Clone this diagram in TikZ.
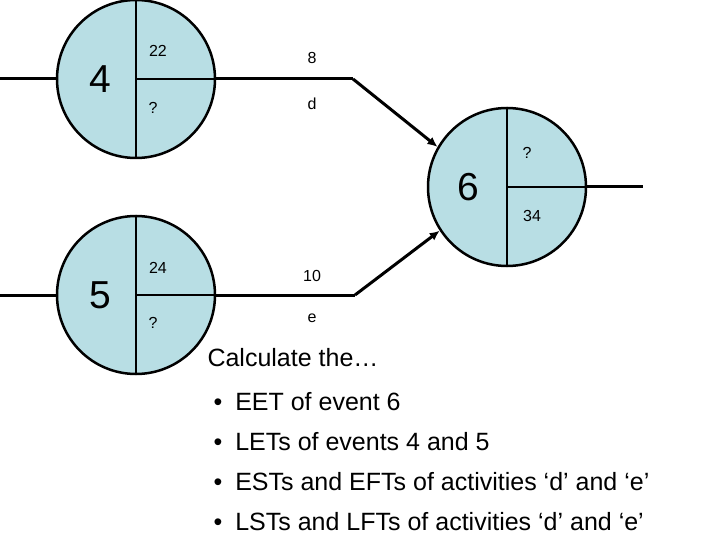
\documentclass[tikz,border=0pt]{standalone}
\usepackage{fontspec}
\setmainfont{Liberation Sans}
\definecolor{ev}{RGB}{184,222,228}
\begin{document}
\begin{tikzpicture}[x=1pt,y=-1pt,
  evc/.style={circle,draw,fill=ev,line width=2.5pt,minimum size=158pt,inner sep=0pt},
  ln/.style={line width=3pt},
  sl/.style={line width=2.5pt},
  arr/.style={line width=3pt,-{Latex[length=10pt,width=9pt]}},
  big/.style={font=\fontsize{39}{39}\selectfont},
  sm/.style={font=\fontsize{16}{16}\selectfont},
  txt/.style={font=\fontsize{25}{30}\selectfont,anchor=west}]
\useasboundingbox (0,0) rectangle (720,540);
\usetikzlibrary{arrows.meta}
% event 4
\node[evc] (c4) at (136,79) {};
\coordinate (l4) at (0,79);
\coordinate (r4) at (353,79);
\draw[ln] (l4) -- (c4.west);
\draw[ln] (c4.east) -- (r4);
\draw[sl] (c4.north) -- (c4.south);
\draw[sl] (c4.center) -- (c4.east);
\node[big] (n4) at (100,79) {4};
\node[sm] (a22) at (158,51) {22};
\node[sm] (q4) at (153,108) {?};
\node[sm] (l8) at (312,58) {8};
\node[sm] (ld) at (312,104) {d};
% event 5
\node[evc] (c5) at (136,295) {};
\coordinate (l5) at (0,295);
\coordinate (r5) at (355,295);
\draw[ln] (l5) -- (c5.west);
\draw[ln] (c5.east) -- (r5);
\draw[sl] (c5.north) -- (c5.south);
\draw[sl] (c5.center) -- (c5.east);
\node[big] (n5) at (100,295) {5};
\node[sm] (a24) at (158,268) {24};
\node[sm] (q5) at (153,323) {?};
\node[sm] (l10) at (312,276) {10};
\node[sm] (le) at (312,318) {e};
% event 6
\node[evc] (c6) at (507,187) {};
\coordinate (r6) at (643,187);
\draw[ln] (c6.east) -- (r6);
\draw[sl] (c6.north) -- (c6.south);
\draw[sl] (c6.center) -- (c6.east);
\node[big] (n6) at (468,187) {6};
\node[sm] (q6) at (527,153) {?};
\node[sm] (a34) at (532,216) {34};
\draw[arr] (r4) -- (c6.150);
\draw[arr] (r5) -- (c6.213);
% text
\node[txt] (t0) at (204,358) {Calculate the…};
\node[txt] (t1) at (210,402) {•\hspace{13pt}EET of event 6};
\node[txt] (t2) at (210,442) {•\hspace{13pt}LETs of events 4 and 5};
\node[txt] (t3) at (210,482) {•\hspace{13pt}ESTs and EFTs of activities ‘d’ and ‘e’};
\node[txt] (t4) at (210,522) {•\hspace{13pt}LSTs and LFTs of activities ‘d’ and ‘e’};
\end{tikzpicture}
\end{document}
